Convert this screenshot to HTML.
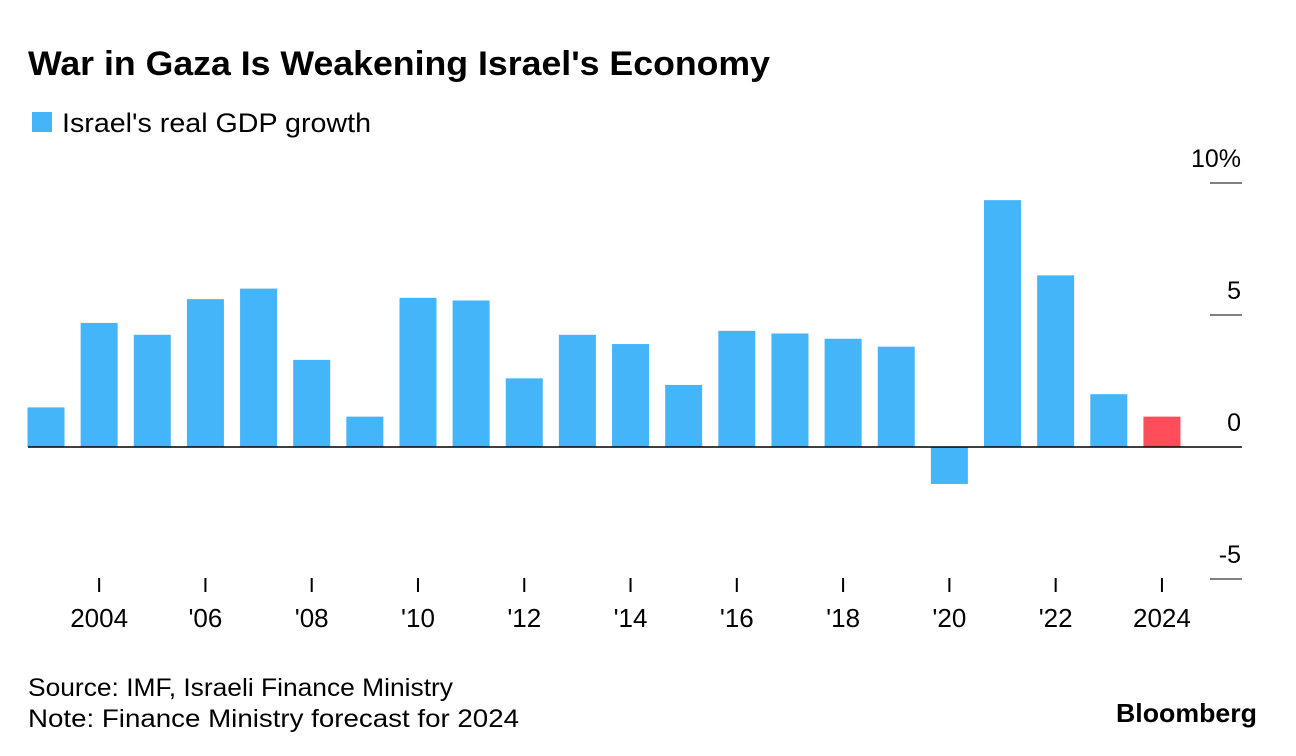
<!DOCTYPE html>
<html><head><meta charset="utf-8"><style>
body{margin:0;background:#fff;font-family:"Liberation Sans",sans-serif;}
#wrap{position:relative;width:1296px;height:756px;overflow:hidden;}
</style></head><body>
<div id="wrap">
<svg id="chart" width="1296" height="756">
<text x="28" y="75" font-size="34" font-weight="bold" fill="#000" textLength="742" lengthAdjust="spacingAndGlyphs">War in Gaza Is Weakening Israel's Economy</text>
<rect x="32" y="112" width="20" height="20" fill="#44b5f8"/>
<text x="62" y="132" font-size="27" fill="#000" textLength="309" lengthAdjust="spacingAndGlyphs">Israel's real GDP growth</text>
<g id="bars"></g>
<g id="axes"></g>
<text x="28" y="696" font-size="25" fill="#000" textLength="425" lengthAdjust="spacingAndGlyphs">Source: IMF, Israeli Finance Ministry</text>
<text x="28" y="727" font-size="25" fill="#000" textLength="491" lengthAdjust="spacingAndGlyphs">Note: Finance Ministry forecast for 2024</text>
<text x="1116" y="722" font-size="26" font-weight="bold" fill="#000" textLength="141" lengthAdjust="spacingAndGlyphs">Bloomberg</text>
</svg>
</div>
<script>
const years=[2003,2004,2005,2006,2007,2008,2009,2010,2011,2012,2013,2014,2015,2016,2017,2018,2019,2020,2021,2022,2023,2024];
const growth=[1.5,4.7,4.25,5.6,6.0,3.3,1.15,5.65,5.55,2.6,4.25,3.9,2.35,4.4,4.3,4.1,3.8,-1.4,9.35,6.5,2.0,1.15];
const yTicks=[10,5,0,-5];
const yTickLabels=["10%","5","0","-5"];
const xTickYears=[2004,2006,2008,2010,2012,2014,2016,2018,2020,2022,2024];
const xTickLabels=["2004","'06","'08","'10","'12","'14","'16","'18","'20","'22","2024"];
const NS="http://www.w3.org/2000/svg";
function y(v){return 447-v*26.4;}
function x(yr){return 46+(yr-2003)*53.14;}
const bars=document.getElementById('bars'),axes=document.getElementById('axes');
function mk(tag,attrs,parent){const e=document.createElementNS(NS,tag);for(const k in attrs)e.setAttribute(k,attrs[k]);parent.appendChild(e);return e;}
years.forEach((yr,i)=>{
 const v=growth[i];
 const r=mk('rect',{x:x(yr)-18.5,y:Math.min(y(v),y(0)),width:37,height:Math.abs(y(v)-y(0)),fill:yr===2024?'#ff4d5a':'#44b5f8'},bars);
 
 
});
yTicks.forEach((t,i)=>{
 const l=mk('line',{x1:1210,x2:1242,y1:y(t),y2:y(t),stroke:'#000','stroke-width':1},axes);
 
 
 const tx=mk('text',{x:1241,y:y(t)-16,'font-size':25,'text-anchor':'end',fill:'#000'},axes);
 tx.textContent=yTickLabels[i];
 
 
});
const zl=mk('line',{x1:28,x2:1242,y1:y(0),y2:y(0),stroke:'#000','stroke-width':1.5},axes);


xTickYears.forEach((yr,i)=>{
 const l=mk('line',{x1:x(yr),x2:x(yr),y1:578,y2:592,stroke:'#000','stroke-width':2},axes);
 
 
 const t=mk('text',{x:x(yr),y:627,'font-size':26,'text-anchor':'middle',fill:'#000'},axes);
 t.textContent=xTickLabels[i];
 
 
});
</script>
</body></html>
